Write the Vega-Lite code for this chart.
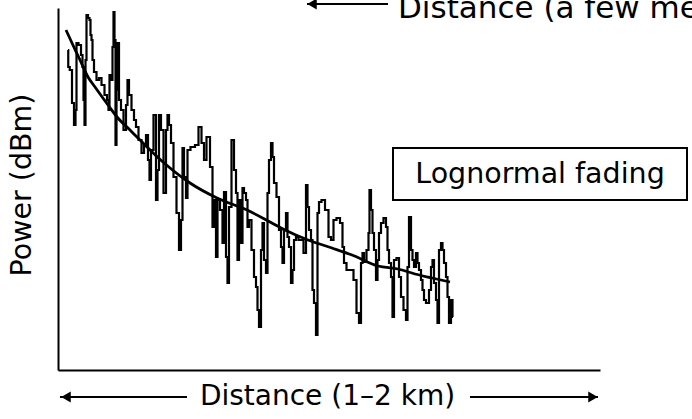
{
  "$schema": "https://vega.github.io/schema/vega-lite/v6.json",
  "width": 542,
  "height": 362,
  "autosize": {"type": "none"},
  "padding": {"left": 58, "top": 8, "right": 92, "bottom": 49},
  "background": "white",
  "config": {
    "view": {"stroke": null},
    "axis": {"ticks": false, "labels": false, "grid": false, "title": null, "domainColor": "#000", "domainWidth": 2},
    "text": {"font": "DejaVu Sans", "color": "#000"}
  },
  "datasets": {
    "noise": [
      {"d":10,"p":320},{"d":10.5,"p":303},{"d":13,"p":300},{"d":15,"p":267},{"d":17,"p":245},{"d":18,"p":260},{"d":19,"p":327},{"d":22,"p":325},{"d":24,"p":315},{"d":25,"p":303},{"d":26,"p":270},{"d":27,"p":245},{"d":28,"p":310},{"d":29,"p":355},{"d":31,"p":352},{"d":32,"p":350},{"d":33,"p":335},{"d":34,"p":330},{"d":35,"p":310},{"d":37,"p":298},{"d":40,"p":290},{"d":42,"p":292},{"d":45,"p":285},{"d":48,"p":275},{"d":50,"p":270},{"d":51,"p":260},{"d":52,"p":295},{"d":54,"p":290},{"d":55,"p":323},{"d":56,"p":358},{"d":57,"p":330},{"d":58,"p":225},{"d":59,"p":280},{"d":60,"p":327},{"d":62,"p":270},{"d":64,"p":260},{"d":67,"p":240},{"d":69,"p":265},{"d":70,"p":290},{"d":72,"p":275},{"d":75,"p":260},{"d":77,"p":250},{"d":79,"p":243},{"d":82,"p":230},{"d":85,"p":217},{"d":87,"p":225},{"d":89,"p":235},{"d":91,"p":210},{"d":92,"p":190},{"d":94,"p":220},{"d":97,"p":255},{"d":99,"p":170},{"d":100,"p":200},{"d":102,"p":255},{"d":104,"p":240},{"d":107,"p":177},{"d":109,"p":240},{"d":110,"p":255},{"d":112,"p":245},{"d":114,"p":227},{"d":117,"p":193},{"d":120,"p":157},{"d":122,"p":120},{"d":124,"p":150},{"d":125,"p":222},{"d":127,"p":193},{"d":129,"p":172},{"d":130,"p":220},{"d":135,"p":223},{"d":139,"p":225},{"d":142,"p":243},{"d":145,"p":227},{"d":147,"p":210},{"d":150,"p":233},{"d":154,"p":203},{"d":155,"p":143},{"d":157,"p":170},{"d":159,"p":113},{"d":160,"p":170},{"d":164,"p":160},{"d":165,"p":127},{"d":167,"p":178},{"d":169,"p":113},{"d":170,"p":87},{"d":172,"p":163},{"d":175,"p":230},{"d":177,"p":200},{"d":179,"p":177},{"d":180,"p":110},{"d":182,"p":170},{"d":184,"p":127},{"d":185,"p":182},{"d":187,"p":177},{"d":189,"p":170},{"d":190,"p":143},{"d":192,"p":150},{"d":195,"p":120},{"d":197,"p":93},{"d":199,"p":83},{"d":200,"p":60},{"d":202,"p":43},{"d":204,"p":120},{"d":205,"p":147},{"d":207,"p":110},{"d":209,"p":97},{"d":210,"p":177},{"d":212,"p":210},{"d":214,"p":227},{"d":215,"p":213},{"d":217,"p":187},{"d":220,"p":173},{"d":222,"p":140},{"d":224,"p":123},{"d":225,"p":107},{"d":227,"p":140},{"d":229,"p":157},{"d":230,"p":133},{"d":232,"p":123},{"d":234,"p":87},{"d":235,"p":100},{"d":237,"p":130},{"d":239,"p":133},{"d":242,"p":130},{"d":244,"p":130},{"d":247,"p":117},{"d":249,"p":185},{"d":250,"p":163},{"d":252,"p":140},{"d":254,"p":130},{"d":255,"p":80},{"d":257,"p":67},{"d":259,"p":35},{"d":260,"p":157},{"d":262,"p":168},{"d":265,"p":170},{"d":269,"p":160},{"d":272,"p":133},{"d":274,"p":130},{"d":277,"p":150},{"d":280,"p":152},{"d":284,"p":147},{"d":285,"p":123},{"d":287,"p":107},{"d":290,"p":100},{"d":294,"p":100},{"d":297,"p":90},{"d":300,"p":57},{"d":302,"p":47},{"d":304,"p":107},{"d":305,"p":117},{"d":307,"p":108},{"d":310,"p":120},{"d":311,"p":137},{"d":312,"p":180},{"d":314,"p":160},{"d":315,"p":137},{"d":317,"p":120},{"d":319,"p":90},{"d":320,"p":110},{"d":322,"p":137},{"d":324,"p":147},{"d":327,"p":152},{"d":329,"p":143},{"d":330,"p":120},{"d":332,"p":107},{"d":334,"p":93},{"d":335,"p":53},{"d":337,"p":110},{"d":340,"p":112},{"d":342,"p":93},{"d":344,"p":73},{"d":347,"p":60},{"d":349,"p":50},{"d":350,"p":103},{"d":352,"p":153},{"d":354,"p":120},{"d":355,"p":110},{"d":357,"p":103},{"d":359,"p":117},{"d":360,"p":107},{"d":362,"p":100},{"d":364,"p":90},{"d":365,"p":80},{"d":367,"p":70},{"d":369,"p":67},{"d":370,"p":67},{"d":372,"p":80},{"d":374,"p":103},{"d":375,"p":110},{"d":377,"p":87},{"d":379,"p":70},{"d":380,"p":47},{"d":382,"p":120},{"d":384,"p":127},{"d":385,"p":120},{"d":387,"p":107},{"d":389,"p":93},{"d":390,"p":73},{"d":392,"p":47},{"d":394,"p":70},{"d":395,"p":53}
    ],
    "trend": [
      {"d":8,"p":340},{"d":14,"p":327},{"d":22,"p":310},{"d":30,"p":293},{"d":37,"p":283},{"d":50,"p":265},{"d":59,"p":253},{"d":72,"p":240},{"d":82,"p":230},{"d":105,"p":208},{"d":132,"p":187},{"d":159,"p":172},{"d":189,"p":160},{"d":212,"p":148},{"d":227,"p":140},{"d":250,"p":130},{"d":274,"p":122},{"d":294,"p":115},{"d":320,"p":104},{"d":340,"p":101},{"d":357,"p":96},{"d":374,"p":92},{"d":392,"p":88}
    ],
    "arrows": [
      {"d":2,"d2":129,"p":-27},
      {"d":412,"d2":540,"p":-27},
      {"d":249,"d2":330,"p":366}
    ],
    "heads": [
      {"d":8,"p":-27,"dir":"left"},
      {"d":535,"p":-27,"dir":"right"},
      {"d":254,"p":366,"dir":"left"}
    ],
    "box": [
      {"d":335,"d2":629,"p":170,"p2":222}
    ]
  },
  "layer": [
    {
      "data": {"name": "noise"},
      "mark": {"type": "line", "color": "#000", "strokeWidth": 2.2, "interpolate": "step", "strokeJoin": "miter"},
      "encoding": {
        "x": {"field": "d", "type": "quantitative", "scale": {"domain": [0, 542], "nice": false, "zero": false}, "title": null},
        "y": {"field": "p", "type": "quantitative", "scale": {"domain": [0, 362], "nice": false, "zero": false}, "title": null}
      }
    },
    {
      "data": {"name": "trend"},
      "mark": {"type": "line", "color": "#000", "strokeWidth": 2.8, "interpolate": "monotone"},
      "encoding": {
        "x": {"field": "d", "type": "quantitative"},
        "y": {"field": "p", "type": "quantitative"}
      }
    },
    {
      "data": {"name": "arrows"},
      "mark": {"type": "rule", "color": "#000", "strokeWidth": 2},
      "encoding": {
        "x": {"field": "d", "type": "quantitative"},
        "x2": {"field": "d2"},
        "y": {"field": "p", "type": "quantitative"}
      }
    },
    {
      "data": {"name": "heads"},
      "mark": {"type": "point", "filled": true, "color": "#000", "opacity": 1, "size": 120},
      "encoding": {
        "x": {"field": "d", "type": "quantitative"},
        "y": {"field": "p", "type": "quantitative"},
        "shape": {"field": "dir", "type": "nominal", "scale": {"domain": ["left", "right"], "range": ["triangle-left", "triangle-right"]}, "legend": null}
      }
    },
    {
      "data": {"name": "box"},
      "mark": {"type": "rect", "fill": "white", "stroke": "#000", "strokeWidth": 2},
      "encoding": {
        "x": {"field": "d", "type": "quantitative"},
        "x2": {"field": "d2"},
        "y": {"field": "p", "type": "quantitative"},
        "y2": {"field": "p2"}
      }
    },
    {
      "data": {"values": [{"d": 482, "p": 196, "t": "Lognormal fading"}]},
      "mark": {"type": "text", "fontSize": 28.5, "align": "center", "baseline": "middle"},
      "encoding": {
        "x": {"field": "d", "type": "quantitative"},
        "y": {"field": "p", "type": "quantitative"},
        "text": {"field": "t"}
      }
    },
    {
      "data": {"values": [{"d": 269.5, "p": -27, "t": "Distance (1–2 km)"}]},
      "mark": {"type": "text", "fontSize": 28, "align": "center", "baseline": "middle"},
      "encoding": {
        "x": {"field": "d", "type": "quantitative"},
        "y": {"field": "p", "type": "quantitative"},
        "text": {"field": "t"}
      }
    },
    {
      "data": {"values": [{"d": 340, "p": 352, "t": "Distance (a few meters)"}]},
      "mark": {"type": "text", "fontSize": 31, "align": "left", "baseline": "alphabetic"},
      "encoding": {
        "x": {"field": "d", "type": "quantitative"},
        "y": {"field": "p", "type": "quantitative"},
        "text": {"field": "t"}
      }
    },
    {
      "data": {"values": [{"d": -36, "p": 185, "t": "Power (dBm)"}]},
      "mark": {"type": "text", "fontSize": 28.5, "align": "center", "baseline": "middle", "angle": 270},
      "encoding": {
        "x": {"field": "d", "type": "quantitative"},
        "y": {"field": "p", "type": "quantitative"},
        "text": {"field": "t"}
      }
    }
  ]
}
